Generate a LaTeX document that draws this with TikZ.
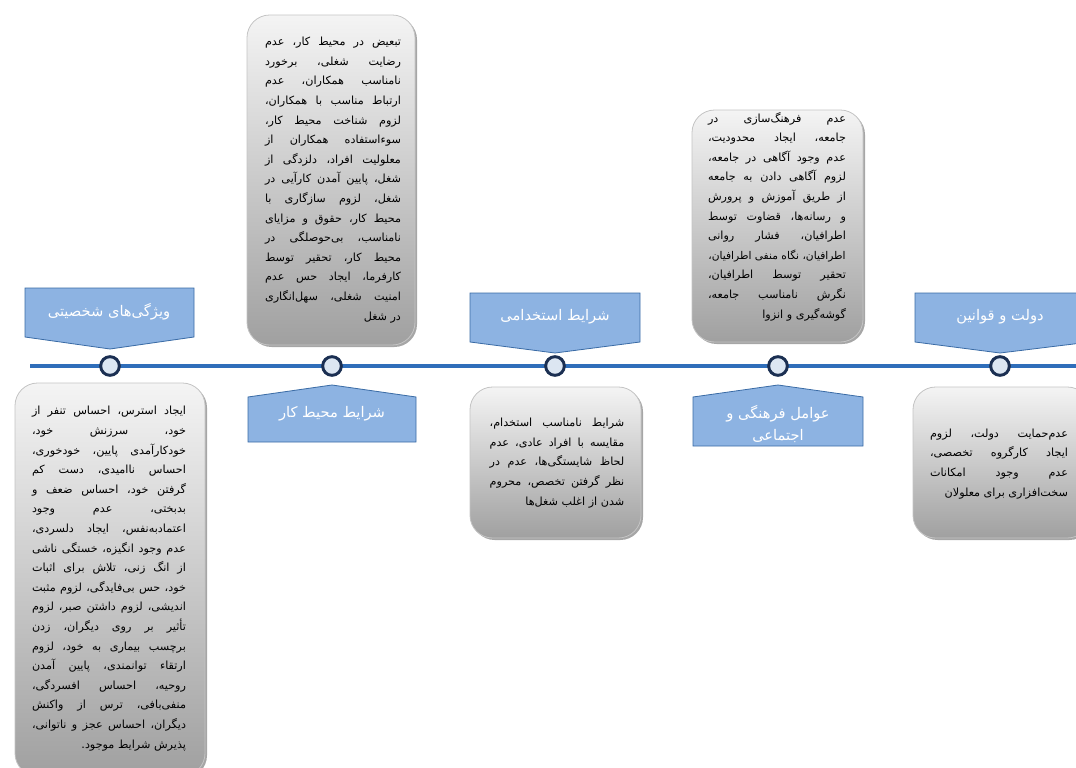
\documentclass[tikz,border=0pt]{standalone}
\usepackage{fontspec}
\usetikzlibrary{shadows}
\TeXXeTstate=1
\newfontfamily\arabicfont[Script=Arabic]{DejaVu Sans}
\definecolor{calloutfill}{HTML}{8DB3E2}
\definecolor{calloutdraw}{HTML}{3A6BA5}
\definecolor{linecol}{HTML}{2F6EBA}
\definecolor{dotfill}{HTML}{DCE6F2}
\definecolor{dotdraw}{HTML}{1B2F52}
\definecolor{boxtop}{HTML}{F4F4F4}
\definecolor{boxbot}{HTML}{A0A0A0}
\definecolor{boxdraw}{HTML}{C4C4C4}
\hbadness=10000 \hfuzz=1pt
\newlength\W
\newcommand\basefs{8.4}
\newcommand\jl[1]{\setbox0=\hbox{\beginR #1\endR}\ifdim\wd0>\W\relax
  \pgfmathsetmacro\myfs{\basefs*\the\W/\the\wd0*0.995}%
  \hbox to \W{\fontsize{\myfs pt}{14.7pt}\selectfont\hfill\beginR #1\endR\hfill}%
  \else\hbox to \W{\beginR #1\endR}\fi}
\newcommand\jlast[1]{\setbox0=\hbox{\beginR #1\endR}\ifdim\wd0>\W\relax
  \pgfmathsetmacro\myfs{\basefs*\the\W/\the\wd0*0.995}%
  \hbox to \W{\fontsize{\myfs pt}{14.7pt}\selectfont\hfill\beginR #1\endR}%
  \else\hbox to \W{\hfill\box0}\fi}
\newcommand\tblock[2]{\setlength\W{#1}\vbox{\arabicfont\fontsize{\basefs pt}{14.7pt}\selectfont\hsize=\W\lineskiplimit=-\maxdimen\baselineskip=14.7pt\relax #2}}
\tikzset{
  dot/.style={circle, draw=dotdraw, fill=dotfill, line width=2.2pt, minimum size=14pt, inner sep=0pt},
  callout/.style={draw=calloutdraw, fill=calloutfill, line width=0.6pt},
  clabel/.style={text=white, font=\arabicfont\fontsize{11}{16.5}\selectfont, align=center, inner sep=0pt},
  gbox/.style={draw=boxdraw, line width=0.6pt, top color=boxtop, bottom color=boxbot, rounded corners=17pt,
    drop shadow={shadow xshift=1.5pt, shadow yshift=-1.5pt, opacity=0.35, fill=black}},
  tnode/.style={inner sep=0pt, anchor=base},
  tl/.style={draw=linecol, line width=2.3pt}
}
\begin{document}
\begin{tikzpicture}[x=0.75pt, y=-0.75pt]
\useasboundingbox (0,0) rectangle (1076,768);
\clip (0,0) rectangle (1076,768);
% timeline
\coordinate (ls) at (30,366);
\coordinate (le) at (1080,366);
\draw[tl] (ls) -- (le);
% boxes
\path[gbox] (15,383) rectangle (205,776);
\path[gbox] (247,15) rectangle (415,345);
\path[gbox] (470,387) rectangle (641,538);
\path[gbox] (692,110) rectangle (863,342);
\path[gbox] (913,387) rectangle (1090,538);
% callouts
\path[callout] (25,288) -- (194,288) -- (194,337) -- (110,349) -- (25,337) -- cycle;
\path[callout] (248,397) -- (332,385) -- (416,397) -- (416,442) -- (248,442) -- cycle;
\path[callout] (470,293) -- (640,293) -- (640,342) -- (555,353) -- (470,342) -- cycle;
\path[callout] (693,397) -- (778,385) -- (863,397) -- (863,446) -- (693,446) -- cycle;
\path[callout] (915,293) -- (1090,293) -- (1090,342) -- (1000,353) -- (915,342) -- cycle;
% circles
\node[dot] (c1) at (110,366) {};
\node[dot] (c2) at (332,366) {};
\node[dot] (c3) at (555,366) {};
\node[dot] (c4) at (778,366) {};
\node[dot] (c5) at (1000,366) {};
% callout labels
\node[clabel] (l1) at (109,312) {\beginR ویژگی‌های شخصیتی\endR};
\node[clabel] (l2) at (332,414) {\beginR شرایط محیط کار\endR};
\node[clabel] (l3) at (555,317) {\beginR شرایط استخدامی\endR};
\node[clabel] (l4) at (778,424) {\beginR عوامل فرهنگی و\endR\\\beginR اجتماعی\endR};
\node[clabel] (l5) at (1000,317) {\beginR دولت و قوانین\endR};
% texts
\node[tnode] (tA) at (109,748) {\tblock{115.5pt}{%
\jl{ایجاد استرس، احساس تنفر از}
\jl{خود، سرزنش خود،}
\jl{خودکارآمدی پایین، خودخوری،}
\jl{احساس ناامیدی، دست کم}
\jl{گرفتن خود، احساس ضعف و}
\jl{بدبختی، عدم وجود}
\jl{اعتمادبه‌نفس، ایجاد دلسردی،}
\jl{عدم وجود انگیزه، خستگی ناشی}
\jl{از انگ زنی، تلاش برای اثبات}
\jl{خود، حس بی‌فایدگی، لزوم مثبت}
\jl{اندیشی، لزوم داشتن صبر، لزوم}
\jl{تأثیر بر روی دیگران، زدن}
\jl{برچسب بیماری به خود، لزوم}
\jl{ارتقاء توانمندی، پایین آمدن}
\jl{روحیه، احساس افسردگی،}
\jl{منفی‌بافی، ترس از واکنش}
\jl{دیگران، احساس عجز و ناتوانی،}
\jlast{پذیرش شرایط موجود.}}};
\node[tnode] (tB) at (333,320) {\tblock{102pt}{%
\jl{تبعیض در محیط کار، عدم}
\jl{رضایت شغلی، برخورد}
\jl{نامناسب همکاران، عدم}
\jl{ارتباط مناسب با همکاران،}
\jl{لزوم شناخت محیط کار،}
\jl{سوءاستفاده همکاران از}
\jl{معلولیت افراد، دلزدگی از}
\jl{شغل، پایین آمدن کارآیی در}
\jl{شغل، لزوم سازگاری با}
\jl{محیط کار، حقوق و مزایای}
\jl{نامناسب، بی‌حوصلگی در}
\jl{محیط کار، تحقیر توسط}
\jl{کارفرما، ایجاد حس عدم}
\jl{امنیت شغلی، سهل‌انگاری}
\jlast{در شغل}}};
\node[tnode] (tC) at (557,505) {\tblock{101pt}{%
\jl{شرایط نامناسب استخدام،}
\jl{مقایسه با افراد عادی، عدم}
\jl{لحاظ شایستگی‌ها، عدم در}
\jl{نظر گرفتن تخصص، محروم}
\jlast{شدن از اغلب شغل‌ها}}};
\node[tnode] (tD) at (777,318) {\tblock{103.5pt}{%
\jl{عدم فرهنگ‌سازی در}
\jl{جامعه، ایجاد محدودیت،}
\jl{عدم وجود آگاهی در جامعه،}
\jl{لزوم آگاهی دادن به جامعه}
\jl{از طریق آموزش و پرورش}
\jl{و رسانه‌ها، قضاوت توسط}
\jl{اطرافیان، فشار روانی}
\jl{اطرافیان، نگاه منفی اطرافیان،}
\jl{تحقیر توسط اطرافیان،}
\jl{نگرش نامناسب جامعه،}
\jlast{گوشه‌گیری و انزوا}}};
\node[tnode] (tE) at (999,496) {\tblock{103.5pt}{%
\jl{عدم‌حمایت دولت، لزوم}
\jl{ایجاد کارگروه تخصصی،}
\jl{عدم وجود امکانات}
\jlast{سخت‌افزاری برای معلولان}}};
\end{tikzpicture}
\end{document}
